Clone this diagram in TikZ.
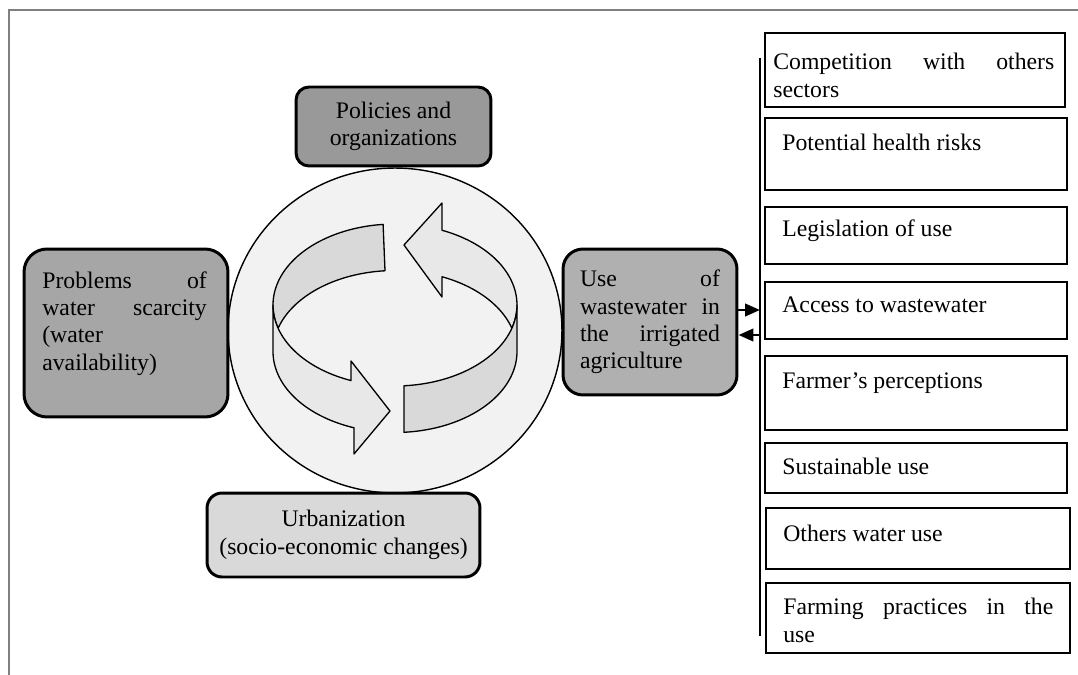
\documentclass[tikz,border=0pt]{standalone}
\usepackage{fontspec}
\setmainfont{Liberation Serif}
\usetikzlibrary{arrows.meta,shapes.geometric}

\definecolor{framegray}{HTML}{808080}
\definecolor{discfill}{HTML}{F2F2F2}
\definecolor{bandlight}{HTML}{E8E8E8}
\definecolor{banddark}{HTML}{D9D9D9}
\definecolor{policyfill}{HTML}{999999}
\definecolor{problemfill}{HTML}{A6A6A6}
\definecolor{usefill}{HTML}{B0B0B0}
\definecolor{urbanfill}{HTML}{D9D9D9}

\begin{document}
\begin{tikzpicture}[x=0.02cm, y=-0.02cm,
  every node/.style={font=\fontsize{13.5pt}{15.6pt}\selectfont},
  hub/.style={draw=black, line width=1.7pt, rounded corners=#1, inner sep=0pt},
  factor/.style={draw=black, line width=1.1pt, inner sep=0pt, minimum width=6.04cm},
  ftext/.style={anchor=north west, inner sep=0pt, align=left},
  band/.style={draw=black, line width=0.75pt, line join=round},
  link/.style={line width=1.5pt, -{Triangle[length=0.3cm,width=0.25cm]}}
]
\useasboundingbox (0,0) rectangle (1078,675);

% page frame
\draw[framegray, line width=1pt] (1078,10) -- (9,10) -- (9,675);

% central disc
\node[draw=black, fill=discfill, ellipse, line width=0.8pt, inner sep=0pt,
      minimum width=6.68cm, minimum height=6.5cm] (disc) at (395,330.5) {};

% cycle ribbon: back parts first
\filldraw[band, fill=banddark]
  plot[domain=95.6:180, samples=40] ({395+122*cos(\x)},{305-81*sin(\x)})
  -- plot[domain=180:196.7, samples=10] ({395+122*cos(\x)},{305-81*sin(\x)})
  -- plot[domain=163.3:94.7, samples=40] ({395+122*cos(\x)},{351.5-81*sin(\x)})
  -- cycle;
\filldraw[band, fill=bandlight]
  plot[domain=0:67.3, samples=40] ({395+122*cos(\x)},{305-81*sin(\x)})
  -- (442,203) -- (404,245) -- (442,297)
  -- plot[domain=67.3:16.7, samples=40] ({395+122*cos(\x)},{351.5-81*sin(\x)})
  -- plot[domain=-16.7:0, samples=10] ({395+122*cos(\x)},{305-81*sin(\x)})
  -- cycle;
% front parts
\filldraw[band, fill=bandlight]
  plot[domain=180:248.9, samples=40] ({395+122*cos(\x)},{305-81*sin(\x)})
  -- (351,361) -- (390,411) -- (354,454)
  -- plot[domain=250.4:180, samples=40] ({395+122*cos(\x)},{351.5-81*sin(\x)})
  -- cycle;
\filldraw[band, fill=banddark]
  plot[domain=274.2:360, samples=40] ({395+122*cos(\x)},{305-81*sin(\x)})
  -- plot[domain=360:274.2, samples=40] ({395+122*cos(\x)},{351.5-81*sin(\x)})
  -- cycle;

% the four surrounding boxes
\node[hub=0.26cm, fill=policyfill, minimum width=3.9cm, minimum height=1.58cm,
      align=center] (policy) at (393.5,126.5) {Policies and\\organizations};

\node[hub=0.46cm, fill=problemfill, minimum width=4.08cm, minimum height=3.36cm]
      (problem) at (126,333) {};
\node[ftext, text width=3.29cm] (problemtext) at (42,271)
      {Problems\hfill of\\water\hfill scarcity\\(water\\availability)};

\node[hub=0.4cm, fill=usefill, minimum width=3.48cm, minimum height=2.92cm,
      text width=2.8cm, align=left] (use) at (650,322)
      {Use\hfill of\\wastewater\hfill in\\the\hfill irrigated\\agriculture};

\node[hub=0.3cm, fill=urbanfill, minimum width=5.46cm, minimum height=1.68cm,
      align=center] (urban) at (343.5,535) {Urbanization\\(socio-economic changes)};

% bus line and links to the factor list
\coordinate (bustop) at (760,58);
\coordinate (busbot) at (760,636);
\draw[line width=1.2pt] (bustop) -- (busbot);
\coordinate (busin) at (760,310);
\coordinate (busout) at (760,335);
\draw[link] (use.east |- busin) -- (busin);
\draw[link] (busout) -- (use.east |- busout);

% factor boxes
\node[factor, minimum width=6cm, minimum height=1.48cm] (f1) at (915,70) {};
\node[ftext, text width=5.62cm] (f1text) at (773,53)
      {Competition\hfill with\hfill others\\sectors};

\node[factor, minimum height=1.44cm] (f2) at (916,154) {};
\node[ftext] (f2text) at (782,134) {Potential health risks};

\node[factor, minimum height=1.14cm] (f3) at (916,235.5) {};
\node[ftext] (f3text) at (782,219) {Legislation of use};

\node[factor, minimum height=1.14cm] (f4) at (916,310.5) {};
\node[ftext] (f4text) at (782,296) {Access to wastewater};

\node[factor, minimum height=1.48cm] (f5) at (916,393) {};
\node[ftext] (f5text) at (782,372) {Farmer’s perceptions};

\node[factor, minimum height=1.0cm] (f6) at (916,468) {};
\node[ftext] (f6text) at (782,458) {Sustainable use};

\node[factor, minimum width=6.08cm, minimum height=1.22cm] (f7) at (918,538.5) {};
\node[ftext] (f7text) at (783,525) {Others water use};

\node[factor, minimum width=6.08cm, minimum height=1.4cm] (f8) at (918,618) {};
\node[ftext, text width=5.4cm] (f8text) at (783,598)
      {Farming\hfill practices\hfill in\hfill the\\use};

\end{tikzpicture}
\end{document}
